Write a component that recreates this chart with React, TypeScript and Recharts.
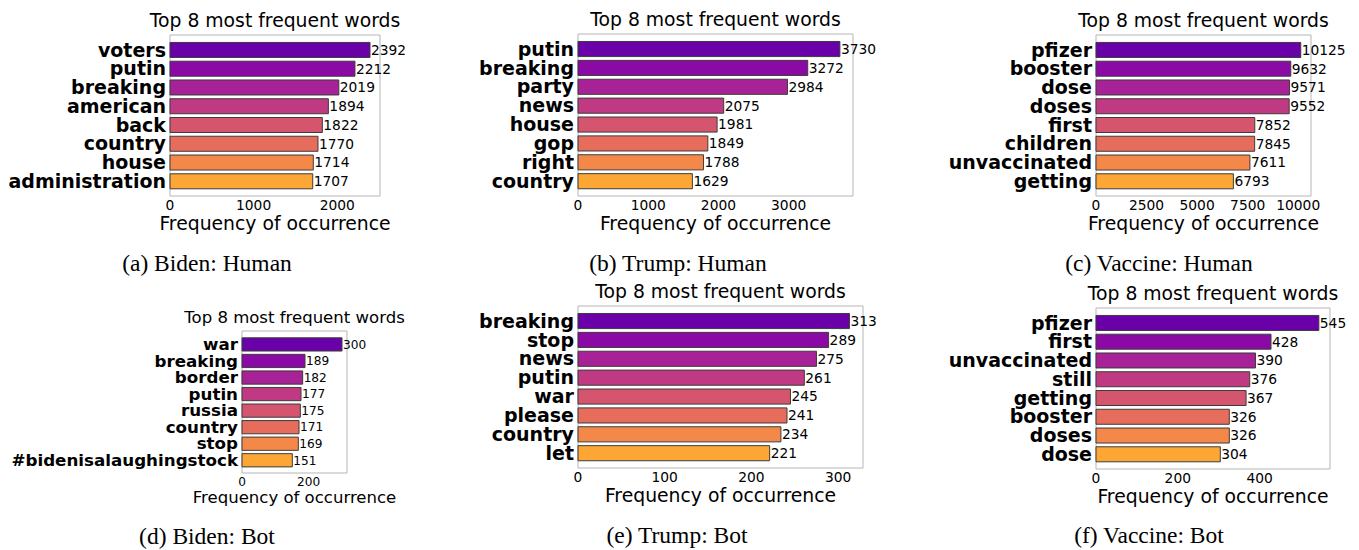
import React from "react"
import { Bar, BarChart, CartesianGrid, Cell, LabelList, XAxis, YAxis } from "recharts"

// (a) Biden: Human
const bidenHumanWords = ["voters", "putin", "breaking", "american", "back", "country", "house", "administration"]
const bidenHumanCounts = [2392, 2212, 2019, 1894, 1822, 1770, 1714, 1707]
const bidenHumanTicks = [0, 1000, 2000]

// (b) Trump: Human
const trumpHumanWords = ["putin", "breaking", "party", "news", "house", "gop", "right", "country"]
const trumpHumanCounts = [3730, 3272, 2984, 2075, 1981, 1849, 1788, 1629]
const trumpHumanTicks = [0, 1000, 2000, 3000]

// (c) Vaccine: Human
const vaccineHumanWords = ["pfizer", "booster", "dose", "doses", "first", "children", "unvaccinated", "getting"]
const vaccineHumanCounts = [10125, 9632, 9571, 9552, 7852, 7845, 7611, 6793]
const vaccineHumanTicks = [0, 2500, 5000, 7500, 10000]

// (d) Biden: Bot
const bidenBotWords = ["war", "breaking", "border", "putin", "russia", "country", "stop", "#bidenisalaughingstock"]
const bidenBotCounts = [300, 189, 182, 177, 175, 171, 169, 151]
const bidenBotTicks = [0, 200]

// (e) Trump: Bot
const trumpBotWords = ["breaking", "stop", "news", "putin", "war", "please", "country", "let"]
const trumpBotCounts = [313, 289, 275, 261, 245, 241, 234, 221]
const trumpBotTicks = [0, 100, 200, 300]

// (f) Vaccine: Bot
const vaccineBotWords = ["pfizer", "first", "unvaccinated", "still", "getting", "booster", "doses", "dose"]
const vaccineBotCounts = [545, 428, 390, 376, 367, 326, 326, 304]
const vaccineBotTicks = [0, 200, 400]

const captions = ["(a) Biden: Human", "(b) Trump: Human", "(c) Vaccine: Human", "(d) Biden: Bot", "(e) Trump: Bot", "(f) Vaccine: Bot"]

// plasma, 0.2 .. 0.8
const barColors = ["#6a00a8", "#8b0aa5", "#a72197", "#c03a83", "#d5546e", "#e66c5c", "#f48849", "#fca636"]

const SANS = "DejaVu Sans"
const SERIF = "Liberation Serif, Times New Roman, serif"

type Box = { left: number; top: number; width: number; height: number }

type PanelProps = {
  words: string[]
  counts: number[]
  ticks: number[]
  box: Box
  labelW: number
  scale?: number
}

function Panel({ words, counts, ticks, box, labelW, scale = 1 }: PanelProps) {
  const data = words.map((w, i) => ({ word: w, count: counts[i] }))
  // matplotlib barh: 8 bars of height 0.8, 5% margins -> 8.58 units
  const step = box.height / 8.58
  const pad = 0.29 * step
  const topM = 4
  const rightM = 70
  const xH = 48
  const width = labelW + box.width + rightM
  const height = topM + box.height + xH
  return (
    <div style={{ position: "absolute", left: box.left - labelW, top: box.top - topM }}>
      <BarChart
        layout="vertical"
        width={width}
        height={height}
        data={data}
        margin={{ top: topM, right: rightM, left: 0, bottom: 0 }}
        barCategoryGap={0}
      >
        <CartesianGrid
          stroke="#b5b5b5"
          horizontalCoordinatesGenerator={({ offset }: any) => [offset.top, offset.top + offset.height]}
          verticalCoordinatesGenerator={({ offset }: any) => [offset.left, offset.left + offset.width]}
        />
        <XAxis
          type="number"
          domain={[0, (max: number) => max * 1.05]}
          ticks={ticks}
          axisLine={false}
          tickLine={false}
          tickSize={0}
          tickMargin={4}
          height={xH}
          tick={{ fill: "#000", fontSize: 13.8 * scale, fontFamily: SANS }}
          label={{
            value: "Frequency of occurrence",
            position: "insideBottom",
            offset: xH - 34 * scale,
            fill: "#000",
            fontSize: 18.8 * scale,
            fontFamily: SANS,
          }}
        />
        <YAxis
          type="category"
          dataKey="word"
          width={labelW}
          interval={0}
          axisLine={false}
          tickLine={false}
          tickSize={0}
          tickMargin={4}
          padding={{ top: pad, bottom: pad }}
          tick={{ fill: "#000", fontSize: 19 * scale, fontWeight: "bold", fontFamily: SANS }}
        />
        <Bar dataKey="count" barSize={0.8 * step} stroke="#3c3c3c" strokeWidth={1} isAnimationActive={false}>
          {data.map((d, i) => (
            <Cell key={d.word} fill={barColors[i]} />
          ))}
          <LabelList
            dataKey="count"
            position="right"
            offset={1}
            fill="#000"
            fontSize={13.8 * scale}
            fontFamily={SANS}
          />
        </Bar>
      </BarChart>
    </div>
  )
}

const boxes: Box[] = [
  { left: 170, top: 35, width: 210, height: 161 },
  { left: 578, top: 34, width: 275, height: 162 },
  { left: 1096, top: 35, width: 215, height: 161 },
  { left: 242, top: 331, width: 105, height: 142 },
  { left: 578, top: 306, width: 285, height: 162 },
  { left: 1096, top: 308, width: 234, height: 161 },
]
const scales = [1, 1, 1, 0.88, 1, 1]
const captionX = [207, 678, 1159, 207, 677, 1149]
const captionY = [271, 271, 271, 544, 543, 543]

export default function App() {
  return (
    <div style={{ position: "absolute", left: 0, top: 0, width: 1359, height: 550, background: "#fff", overflow: "hidden" }}>
      <Panel words={bidenHumanWords} counts={bidenHumanCounts} ticks={bidenHumanTicks} box={boxes[0]} labelW={170} />
      <Panel words={trumpHumanWords} counts={trumpHumanCounts} ticks={trumpHumanTicks} box={boxes[1]} labelW={110} />
      <Panel words={vaccineHumanWords} counts={vaccineHumanCounts} ticks={vaccineHumanTicks} box={boxes[2]} labelW={160} />
      <Panel words={bidenBotWords} counts={bidenBotCounts} ticks={bidenBotTicks} box={boxes[3]} labelW={240} scale={0.88} />
      <Panel words={trumpBotWords} counts={trumpBotCounts} ticks={trumpBotTicks} box={boxes[4]} labelW={110} />
      <Panel words={vaccineBotWords} counts={vaccineBotCounts} ticks={vaccineBotTicks} box={boxes[5]} labelW={160} />
      <svg width={1359} height={550} style={{ position: "absolute", left: 0, top: 0, pointerEvents: "none" }}>
        {boxes.map((b, i) => (
          <text
            key={"t" + i}
            x={b.left + b.width / 2}
            y={b.top - 8}
            textAnchor="middle"
            fontFamily={SANS}
            fontSize={18.8 * scales[i]}
            fill="#000"
          >
            Top 8 most frequent words
          </text>
        ))}
        {captions.map((c, i) => (
          <text key={c} x={captionX[i]} y={captionY[i]} textAnchor="middle" fontFamily={SERIF} fontSize={23.5} fill="#000">
            {c}
          </text>
        ))}
      </svg>
    </div>
  )
}
